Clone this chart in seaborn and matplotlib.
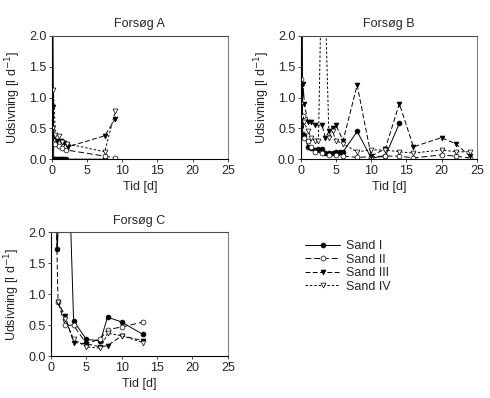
import matplotlib
matplotlib.use("Agg")
import pandas as pd
import matplotlib.pyplot as plt
import seaborn as sns

# Forsøg A
a_t1 = [0.1, 0.25, 0.5, 0.75, 1.0, 1.25, 1.5, 1.75, 2.0, 7.5]
a_s1 = [3.0, 0.0, 0.0, 0.0, 0.0, 0.0, 0.0, 0.0, 0.0, 0.0]
a_t2 = [0.0, 0.1, 0.5, 1.0, 1.5, 2.0, 7.5, 9.0]
a_s2 = [0.53, 0.27, 0.24, 0.21, 0.18, 0.15, 0.05, 0.02]
a_t3 = [0.0, 0.1, 0.3, 0.75, 1.25, 1.75, 2.25, 7.5, 9.0]
a_s3 = [2.5, 0.85, 0.38, 0.3, 0.3, 0.26, 0.2, 0.38, 0.65]
a_t4 = [0.2, 0.5, 1.0, 1.5, 2.2, 7.5, 9.0]
a_s4 = [1.12, 0.4, 0.38, 0.28, 0.25, 0.12, 0.78]

# Forsøg B
b_t1 = [0.0, 0.2, 0.25, 0.5, 1.0, 1.5, 2.0, 2.5, 3.0, 3.5, 4.0, 4.5, 5.0, 5.5, 6.0, 8.0, 10.0, 12.0, 14.0]
b_s1 = [1.05, 2.5, 0.4, 0.4, 0.2, 0.18, 0.15, 0.17, 0.17, 0.1, 0.1, 0.1, 0.12, 0.12, 0.12, 0.45, 0.02, 0.05, 0.58]
b_t2 = [0.0, 0.25, 0.5, 1.0, 1.5, 2.0, 3.0, 4.0, 5.0, 6.0, 8.0, 10.0, 12.0, 14.0, 16.0, 20.0, 22.0, 24.0]
b_s2 = [1.3, 0.7, 0.35, 0.3, 0.2, 0.12, 0.1, 0.07, 0.07, 0.05, 0.03, 0.04, 0.05, 0.05, 0.02, 0.07, 0.05, 0.02]
b_t3 = [0.0, 0.3, 0.5, 1.0, 1.5, 2.0, 3.0, 3.5, 4.0, 4.5, 5.0, 6.0, 8.0, 10.0, 12.0, 14.0, 16.0, 20.0, 22.0, 24.0]
b_s3 = [1.05, 1.22, 0.9, 0.6, 0.6, 0.55, 0.55, 0.35, 0.45, 0.5, 0.55, 0.3, 1.2, 0.05, 0.17, 0.9, 0.2, 0.35, 0.25, 0.05]
b_t4 = [0.0, 0.5, 1.0, 1.5, 2.0, 2.5, 3.1, 4.0, 4.5, 5.0, 6.0, 8.0, 10.0, 12.0, 14.0, 16.0, 20.0, 22.0, 24.0]
b_s4 = [0.9, 0.6, 0.45, 0.35, 0.3, 0.3, 4.0, 0.35, 0.45, 0.3, 0.25, 0.12, 0.15, 0.15, 0.12, 0.1, 0.15, 0.12, 0.12]

# Forsøg C
c_t1 = [0.5, 0.9, 2.0, 3.2, 5.0, 7.0, 8.0, 10.0, 13.0]
c_s1 = [3.0, 1.72, 5.0, 0.57, 0.27, 0.25, 0.63, 0.55, 0.35]
c_t2 = [1.0, 2.0, 3.2, 5.0, 7.0, 8.0, 10.0, 13.0]
c_s2 = [0.87, 0.5, 0.5, 0.2, 0.28, 0.43, 0.47, 0.55]
c_t3 = [0.6, 1.0, 2.0, 3.2, 5.0, 7.0, 8.0, 10.0, 13.0]
c_s3 = [3.0, 0.87, 0.65, 0.22, 0.2, 0.15, 0.17, 0.33, 0.25]
c_t4 = [1.0, 2.0, 3.2, 5.0, 7.0, 8.0, 10.0, 13.0]
c_s4 = [0.87, 0.6, 0.27, 0.15, 0.13, 0.37, 0.33, 0.22]

names = ["Sand I", "Sand II", "Sand III", "Sand IV"]
styles = {
    "Sand I": dict(linestyle="-", marker="o", markerfacecolor="black"),
    "Sand II": dict(linestyle=(0, (6, 3)), marker="o", markerfacecolor="white"),
    "Sand III": dict(linestyle=(0, (5, 2.5)), marker="v", markerfacecolor="black"),
    "Sand IV": dict(linestyle=(0, (2.5, 2)), marker="v", markerfacecolor="white"),
}

panels = {
    "Forsøg A": [(a_t1, a_s1), (a_t2, a_s2), (a_t3, a_s3), (a_t4, a_s4)],
    "Forsøg B": [(b_t1, b_s1), (b_t2, b_s2), (b_t3, b_s3), (b_t4, b_s4)],
    "Forsøg C": [(c_t1, c_s1), (c_t2, c_s2), (c_t3, c_s3), (c_t4, c_s4)],
}

sns.set_style("white")
plt.rcParams["font.family"] = ["Liberation Sans", "DejaVu Sans"]

fig = plt.figure(figsize=(4.9, 3.98), dpi=100)
boxes = {
    "Forsøg A": [0.106, 0.600, 0.359, 0.310],
    "Forsøg B": [0.614, 0.600, 0.359, 0.310],
    "Forsøg C": [0.104, 0.105, 0.361, 0.312],
}

handles = []
for title, series in panels.items():
    ax = fig.add_axes(boxes[title])
    for name, (t, v) in zip(names, series):
        df = pd.DataFrame({"Tid": t, "Udsivning": v})
        sns.lineplot(data=df, x="Tid", y="Udsivning", ax=ax, estimator=None, sort=False,
                     color="black", linewidth=0.7, markersize=3.5, markeredgewidth=0.5,
                     markeredgecolor="black", label=name, **styles[name])
    ax.set_xlim(0, 25)
    ax.set_ylim(0, 2.0)
    ax.set_xticks([0, 5, 10, 15, 20, 25])
    ax.set_yticks([0.0, 0.5, 1.0, 1.5, 2.0])
    ax.set_yticklabels(["0.0", "0.5", "1.0", "1.5", "2.0"])
    ax.set_xlabel("Tid [d]", fontsize=9, labelpad=3)
    ax.set_ylabel("Udsivning [l d$^{-1}$]", fontsize=9, labelpad=4)
    ax.set_title(title, fontsize=9, pad=6)
    ax.tick_params(labelsize=9, length=2, width=0.6, direction="out", pad=2,
                   bottom=True, left=True)
    for s in ax.spines.values():
        s.set_color("black")
        s.set_linewidth(0.8)
    ax.spines["right"].set_color("0.5")
    ax.spines["top"].set_color("0.3")
    handles, labels = ax.get_legend_handles_labels()
    ax.get_legend().remove()

fig.legend(handles, labels, loc="upper left", bbox_to_anchor=(0.6, 0.425),
           frameon=False, fontsize=9, handlelength=2.8, labelspacing=0.12,
           handletextpad=0.5)

fig.savefig("out.png", dpi=100)
